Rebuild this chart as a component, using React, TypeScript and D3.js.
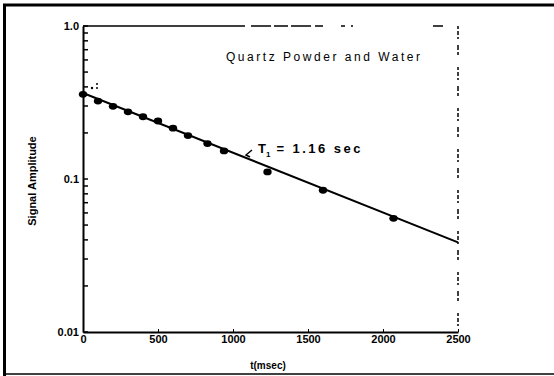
import * as d3 from 'd3'
import React, { useRef, useEffect } from 'react'

const timeMs = [0, 100, 200, 300, 400, 500, 600, 700, 830, 940, 1230, 1600, 2070]
const amplitude = [0.363, 0.328, 0.303, 0.279, 0.259, 0.243, 0.218, 0.195, 0.173, 0.155, 0.113, 0.0857, 0.0562]

// Fitted T1 line end points
const fitTime = [0, 2500]
const fitAmp = [0.365, 0.0385]

const xTicks = [0, 500, 1000, 1500, 2000, 2500]
const yDecades = [0.01, 0.1, 1]
const yDecadeLabels = ['0.01', '0.1', '1.0']

const W = 554
const H = 376
const FONT = 'Liberation Sans, Arial, sans-serif'

const App = () => {
  const ref = useRef<SVGSVGElement | null>(null)

  useEffect(() => {
    const svg = d3.select(ref.current)
    svg.selectAll('*').remove()

    const x = d3.scaleLinear().domain([0, 2500]).range([83, 458])
    const y = d3.scaleLog().domain([0.01, 1]).range([332, 26])

    svg.append('rect').attr('width', W).attr('height', H).attr('fill', '#fff')

    // Outer frame: heavy left/top, thin bottom, no right edge
    svg.append('line').attr('x1', 4.5).attr('x2', 4.5).attr('y1', 4).attr('y2', H)
      .attr('stroke', '#000').attr('stroke-width', 3)
    svg.append('line').attr('x1', 3).attr('x2', W).attr('y1', 5).attr('y2', 5)
      .attr('stroke', '#000').attr('stroke-width', 3)
    svg.append('line').attr('x1', 4).attr('x2', W).attr('y1', 374).attr('y2', 374)
      .attr('stroke', '#000').attr('stroke-width', 1.5)

    // Top and right plot edges (faded, broken print)
    svg.append('line').attr('x1', x(0)).attr('x2', x(2500)).attr('y1', y(1)).attr('y2', y(1))
      .attr('stroke', '#000').attr('stroke-width', 1.5)
      .attr('stroke-dasharray', '162 6 20 3 14 3 20 4 8 18 4 6 2 80 10')
    svg.append('line').attr('x1', x(2500)).attr('x2', x(2500)).attr('y1', y(1)).attr('y2', y(0.01))
      .attr('stroke', '#000').attr('stroke-width', 1.5)
      .attr('stroke-dasharray', '3 2 4 2 2 6 5 2 3 12')

    // Left axis: decade labels, log minor ticks drawn inward
    const yAxis = d3.axisLeft(y)
      .tickValues(yDecades)
      .tickSizeInner(0)
      .tickSizeOuter(0)
      .tickPadding(4)
      .tickFormat((d: any, i: number) => yDecadeLabels[i])
    const gy = svg.append('g').attr('transform', `translate(${x(0)},0)`).call(yAxis as any)
    gy.select('.domain').attr('stroke-width', 2)
    gy.selectAll('text').attr('font-family', FONT).attr('font-size', 11).attr('font-weight', 'bold')

    svg.selectAll('.ytick').data(y.ticks()).enter().append('line')
      .attr('x1', x(0)).attr('x2', x(0) + 5)
      .attr('y1', d => y(d)).attr('y2', d => y(d))
      .attr('stroke', '#000').attr('stroke-width', 1.5)

    // Bottom axis
    const xAxis = d3.axisBottom(x)
      .tickValues(xTicks)
      .tickSizeInner(-3)
      .tickSizeOuter(0)
      .tickPadding(3)
      .tickFormat(d3.format('d') as any)
    const gx = svg.append('g').attr('transform', `translate(0,${y(0.01)})`).call(xAxis as any)
    gx.select('.domain').attr('stroke-width', 2)
    gx.selectAll('text').attr('font-family', FONT).attr('font-size', 11).attr('font-weight', 'bold')

    // Fitted line
    const line = d3.line<number>().x((d, i) => x(fitTime[i])).y(d => y(d))
    svg.append('path').datum(fitAmp).attr('d', line as any)
      .attr('fill', 'none').attr('stroke', '#000').attr('stroke-width', 2)

    // Data points
    svg.selectAll('.pt').data(timeMs).enter().append('ellipse')
      .attr('cx', d => x(d))
      .attr('cy', (d, i) => y(amplitude[i]) + 1)
      .attr('rx', 4.2)
      .attr('ry', 3.4)
      .attr('fill', '#000')

    // Stray print marks near first point
    svg.append('circle').attr('cx', 92).attr('cy', 88).attr('r', 1.2).attr('fill', '#000')
    svg.append('circle').attr('cx', 97).attr('cy', 84).attr('r', 1).attr('fill', '#000')
    svg.append('circle').attr('cx', 97).attr('cy', 88).attr('r', 1).attr('fill', '#000')

    // Annotation
    svg.append('path').attr('d', 'M252,150 L246,155 L250,157')
      .attr('fill', 'none').attr('stroke', '#000').attr('stroke-width', 1.5)
    const t1 = svg.append('text').attr('x', 258).attr('y', 153)
      .attr('font-family', FONT).attr('font-size', 13).attr('font-weight', 'bold')
    t1.append('tspan').text('T')
    t1.append('tspan').attr('font-size', 8).attr('dy', 4).text('1')
    t1.append('tspan').attr('dy', -4).attr('textLength', 90).attr('lengthAdjust', 'spacing')
      .text('  =  1.16 sec')

    svg.append('text').attr('x', 226).attr('y', 61)
      .attr('font-family', FONT).attr('font-size', 12)
      .attr('textLength', 194).attr('lengthAdjust', 'spacing')
      .text('Quartz Powder and Water')

    // Axis titles
    svg.append('text').attr('transform', 'translate(36,181) rotate(-90)')
      .attr('text-anchor', 'middle')
      .attr('font-family', FONT).attr('font-size', 11).attr('font-weight', 'bold')
      .text('Signal Amplitude')

    svg.append('text').attr('x', 268).attr('y', 369)
      .attr('text-anchor', 'middle')
      .attr('font-family', FONT).attr('font-size', 10).attr('font-weight', 'bold')
      .text('t(msec)')
  }, [])

  return (
    <svg ref={ref} width={W} height={H} style={{ position: 'absolute', left: 0, top: 0 }} />
  )
}

export default App
